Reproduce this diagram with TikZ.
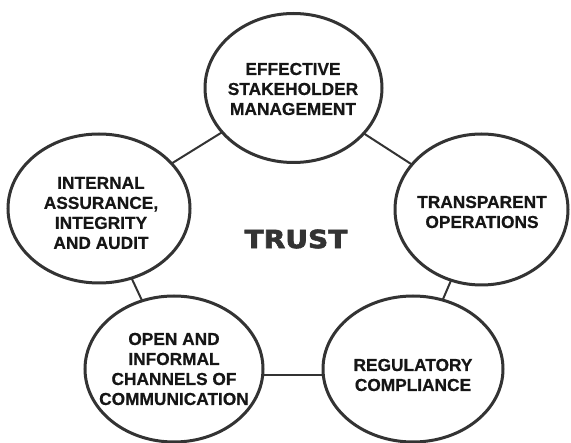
\documentclass[tikz,border=0pt]{standalone}
\usepackage{fontspec}
\setmainfont{Liberation Sans}[BoldFeatures={FakeBold=0.6}]
\newfontfamily\trustfont{DejaVu Sans}[BoldFeatures={FakeBold=2.5}]
\usetikzlibrary{shapes.geometric}
\definecolor{edgegray}{HTML}{333333}
\definecolor{txtblack}{HTML}{161616}
\tikzset{
  ell/.style={draw=edgegray, line width=3pt, ellipse, inner sep=0pt, outer sep=0pt, fill=white},
  lbl/.style={align=center, inner sep=0pt, text=txtblack, font=\bfseries\fontsize{17.3}{20}\selectfont},
  conn/.style={draw=edgegray, line width=2pt},
}
\begin{document}
\begin{tikzpicture}[x=1pt,y=-1pt]
\useasboundingbox (0,0) rectangle (571,443);
% ellipses
\node[ell, minimum width=177pt, minimum height=149pt] (top) at (293.5,88) {};
\node[ell, minimum width=182pt, minimum height=149pt] (left) at (99,208.5) {};
\node[ell, minimum width=173pt, minimum height=151pt] (right) at (481.5,209.5) {};
\node[ell, minimum width=178pt, minimum height=146pt] (bl) at (174,369) {};
\node[ell, minimum width=180pt, minimum height=146pt] (br) at (413,369) {};
% connectors
\draw[conn] (top) -- (left);
\draw[conn] (top) -- (right);
\draw[conn] (left) -- (bl);
\draw[conn] (right) -- (br);
\draw[conn] ([yshift=-6pt]bl.east) -- ([yshift=-6pt]br.west);
% labels
\node[lbl] (toptxt) at (293,89) {EFFECTIVE\\STAKEHOLDER\\MANAGEMENT};
\node[lbl] (lefttxt) at (101,213) {INTERNAL\\ASSURANCE,\\INTEGRITY\\AND AUDIT};
\node[lbl] (righttxt) at (482,212) {TRANSPARENT\\OPERATIONS};
\node[lbl] (bltxt) at (174,369) {OPEN AND\\INFORMAL\\CHANNELS OF\\COMMUNICATION};
\node[lbl] (brtxt) at (413,375) {REGULATORY\\COMPLIANCE};
\node[inner sep=0pt, text=edgegray, font=\trustfont\bfseries\fontsize{25}{25}\selectfont] (trust) at (296,239) {\scalebox{1.12}[1]{TRUST}};
\end{tikzpicture}
\end{document}
